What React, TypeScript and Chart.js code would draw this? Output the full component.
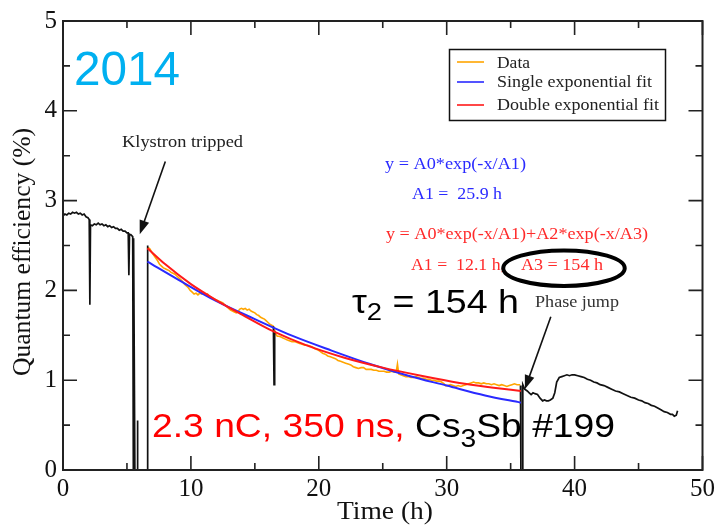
import React, { useEffect, useRef } from "react";
import { Chart, registerables } from "chart.js";
Chart.register(...registerables);

const SERIF = "'Liberation Serif', 'Times New Roman', serif";
const SANS = "'Liberation Sans', Arial, sans-serif";

// Black raw data before the trip (x in h, y in %)
const blackPre: [number, number][] = [
  [0, 2.83], [0.15, 2.85], [0.3, 2.84], [0.45, 2.86], [0.6, 2.85], [0.75, 2.87], [0.9, 2.86], [1.05, 2.87],
  [1.2, 2.85], [1.35, 2.86], [1.5, 2.84], [1.65, 2.85], [1.8, 2.82], [1.95, 2.81], [2.05, 2.79],
  [2.1, 1.84], [2.15, 2.73], [2.3, 2.72], [2.45, 2.74], [2.6, 2.73], [2.75, 2.75], [2.9, 2.73], [3.05, 2.74],
  [3.2, 2.72], [3.35, 2.73], [3.5, 2.71], [3.65, 2.72], [3.8, 2.7], [3.95, 2.71], [4.1, 2.69], [4.25, 2.69],
  [4.4, 2.67], [4.55, 2.68], [4.7, 2.66], [4.85, 2.66], [5.0, 2.64], [5.1, 2.64], [5.15, 2.17], [5.2, 2.62],
  [5.3, 2.62], [5.45, 2.6], [5.5, 0], [5.52, 2.58], [5.62, 0],
  [5.8, 0], [5.82, 0.55], [5.85, 0], [6.6, 0], [6.62, 2.5],
];
// Black spike inside the fitted range
const blackSpike: [number, number][] = [[16.45, 1.6], [16.5, 0.95], [16.55, 1.55]];
// Black raw data after the phase jump
const blackPost: [number, number][] = [
  [35.77, 0.94], [35.8, 0], [35.93, 0], [35.95, 0.95], [36.1, 0.9], [36.3, 0.88], [36.45, 0.86], [36.6, 0.84],
  [36.75, 0.86], [36.9, 0.85], [37.1, 0.84], [37.3, 0.8], [37.5, 0.77], [37.65, 0.78], [37.8, 0.77], [37.95, 0.77],
  [38.1, 0.78], [38.3, 0.8], [38.45, 0.86], [38.6, 0.98], [38.8, 1.03], [39.0, 1.04], [39.2, 1.05], [39.4, 1.06],
  [39.6, 1.05], [39.8, 1.06], [40.0, 1.06], [40.25, 1.05], [40.5, 1.04], [40.75, 1.03], [41.0, 1.01], [41.25, 1.0],
  [41.5, 0.98], [41.75, 0.97], [42.0, 0.95], [42.3, 0.94], [42.6, 0.92], [42.9, 0.9], [43.2, 0.88], [43.5, 0.87],
  [43.8, 0.85], [44.1, 0.83], [44.4, 0.81], [44.7, 0.8], [45.0, 0.78], [45.25, 0.77], [45.5, 0.75], [45.75, 0.74],
  [46.0, 0.72], [46.25, 0.71], [46.5, 0.69], [46.75, 0.67], [47.0, 0.65], [47.25, 0.64], [47.5, 0.62], [47.65, 0.62],
  [47.8, 0.6], [47.95, 0.61], [48.05, 0.66],
];
// Orange: data used in the fit
const fitData: [number, number][] = [
  [6.65, 2.48], [6.8, 2.46], [6.95, 2.42], [7.1, 2.39], [7.25, 2.36], [7.4, 2.33], [7.55, 2.29], [7.7, 2.27],
  [7.85, 2.25], [8.0, 2.24], [8.15, 2.23], [8.3, 2.22], [8.45, 2.2], [8.6, 2.19], [8.75, 2.18], [8.9, 2.16],
  [9.05, 2.14], [9.2, 2.12], [9.35, 2.1], [9.5, 2.07], [9.65, 2.05], [9.8, 2.03], [9.95, 2.0], [10.1, 1.98],
  [10.25, 1.96], [10.4, 1.97], [10.55, 1.95], [10.7, 1.97], [10.85, 1.96], [11.0, 1.97], [11.15, 1.95], [11.3, 1.96],
  [11.45, 1.93], [11.6, 1.92], [11.75, 1.91], [11.9, 1.9], [12.05, 1.89], [12.2, 1.88], [12.35, 1.87], [12.5, 1.86],
  [12.65, 1.84], [12.8, 1.82], [12.95, 1.8], [13.1, 1.78], [13.25, 1.77], [13.4, 1.76], [13.55, 1.75], [13.7, 1.76],
  [13.8, 1.79], [13.95, 1.8], [14.1, 1.79], [14.25, 1.8], [14.4, 1.78], [14.55, 1.79], [14.7, 1.77], [14.85, 1.76],
  [15.0, 1.75], [15.15, 1.73], [15.3, 1.72], [15.45, 1.7], [15.6, 1.69], [15.75, 1.68], [15.9, 1.66], [16.05, 1.64],
  [16.2, 1.62], [16.35, 1.61], [16.45, 1.6], [16.6, 1.52], [16.75, 1.49], [16.9, 1.49], [17.05, 1.48], [17.2, 1.47],
  [17.35, 1.46], [17.5, 1.45], [17.7, 1.44], [17.9, 1.43], [18.1, 1.43], [18.3, 1.42], [18.5, 1.41], [18.7, 1.4],
  [18.9, 1.39], [19.1, 1.39], [19.3, 1.38], [19.5, 1.37], [19.7, 1.35], [19.9, 1.34], [20.1, 1.32], [20.3, 1.3],
  [20.5, 1.29], [20.7, 1.27], [20.9, 1.26], [21.1, 1.25], [21.3, 1.24], [21.5, 1.22], [21.7, 1.21], [21.9, 1.2],
  [22.1, 1.19], [22.3, 1.18], [22.5, 1.17], [22.7, 1.15], [22.9, 1.14], [23.1, 1.13], [23.3, 1.14], [23.5, 1.14],
  [23.7, 1.12], [23.9, 1.12], [24.1, 1.12], [24.3, 1.11], [24.5, 1.11], [24.7, 1.1], [24.9, 1.1], [25.1, 1.1],
  [25.3, 1.09], [25.5, 1.09], [25.7, 1.1], [25.9, 1.09], [26.05, 1.09], [26.15, 1.18], [26.25, 1.07], [26.4, 1.06],
  [26.6, 1.05], [26.8, 1.04], [27.0, 1.04], [27.2, 1.03], [27.4, 1.03], [27.6, 1.04], [27.8, 1.03], [28.0, 1.02],
  [28.2, 1.02], [28.4, 1.01], [28.6, 1.01], [28.8, 1.0], [29.0, 1.0], [29.2, 0.99], [29.4, 0.99], [29.6, 0.98],
  [29.8, 0.96], [29.9, 0.94], [30.1, 0.94], [30.3, 0.95], [30.5, 0.94], [30.7, 0.93], [30.9, 0.94], [31.1, 0.93],
  [31.3, 0.94], [31.5, 0.95], [31.7, 0.96], [31.9, 0.97], [32.1, 0.98], [32.3, 0.97], [32.5, 0.97], [32.7, 0.96],
  [32.9, 0.97], [33.1, 0.96], [33.3, 0.96], [33.5, 0.95], [33.7, 0.96], [33.9, 0.95], [34.1, 0.94], [34.3, 0.95],
  [34.5, 0.94], [34.7, 0.93], [34.9, 0.94], [35.1, 0.95], [35.3, 0.96], [35.5, 0.95], [35.75, 0.95],
];
// Single exponential fit (blue)
const singleFit: [number, number][] = [
  [6.6, 2.32], [9, 2.12], [12, 1.88], [15, 1.68], [18, 1.49], [21, 1.33], [24, 1.18], [27, 1.05], [30, 0.94],
  [33, 0.83], [35.8, 0.75],
];
// Double exponential fit (red)
const doubleFit: [number, number][] = [
  [6.6, 2.47], [8, 2.29], [10, 2.07], [12, 1.89], [14, 1.73], [16.5, 1.54], [19, 1.39], [22, 1.25], [25, 1.14],
  [28, 1.05], [31, 0.97], [33.5, 0.92], [35.8, 0.88],
];

const xTickValues = [0, 5, 10, 15, 20, 25, 30, 35, 40, 45, 50];
const yTickValues = [0, 0.5, 1, 1.5, 2, 2.5, 3, 3.5, 4, 4.5, 5];
const legendLabels = ["Data", "Single exponential fit", "Double exponential fit"];
const legendColors = ["#ffa500", "#2a2aff", "#ff1a1a"];

const toXY = (a: [number, number][]) => a.map(([x, y]) => ({ x, y }));
const gap = (x: number) => ({ x, y: null as any });

type Piece = { t: string; font: string; color: string; dy?: number };
function fitText(ctx: CanvasRenderingContext2D, pieces: Piece[], x0: number, x1: number, base: number) {
  let total = 0;
  const ws: number[] = [];
  for (const p of pieces) {
    ctx.font = p.font;
    const w = ctx.measureText(p.t).width;
    ws.push(w);
    total += w;
  }
  const sx = (x1 - x0) / total;
  ctx.save();
  ctx.translate(x0, base);
  ctx.scale(sx, 1);
  ctx.textBaseline = "alphabetic";
  ctx.textAlign = "left";
  let cx = 0;
  pieces.forEach((p, i) => {
    ctx.font = p.font;
    ctx.fillStyle = p.color;
    ctx.fillText(p.t, cx, p.dy || 0);
    cx += ws[i];
  });
  ctx.restore();
}

function arrow(ctx: CanvasRenderingContext2D, x0: number, y0: number, x1: number, y1: number) {
  const ang = Math.atan2(y1 - y0, x1 - x0);
  const L = 14, W = 5;
  ctx.save();
  ctx.strokeStyle = "#111";
  ctx.fillStyle = "#111";
  ctx.lineWidth = 1.6;
  ctx.beginPath();
  ctx.moveTo(x0, y0);
  ctx.lineTo(x1 - Math.cos(ang) * L * 0.8, y1 - Math.sin(ang) * L * 0.8);
  ctx.stroke();
  ctx.beginPath();
  ctx.moveTo(x1, y1);
  ctx.lineTo(x1 - Math.cos(ang) * L - Math.sin(ang) * W, y1 - Math.sin(ang) * L + Math.cos(ang) * W);
  ctx.lineTo(x1 - Math.cos(ang) * L + Math.sin(ang) * W, y1 - Math.sin(ang) * L - Math.cos(ang) * W);
  ctx.closePath();
  ctx.fill();
  ctx.restore();
}

const overlay = {
  id: "overlay",
  afterDatasetsDraw(chart: any) {
    const ctx: CanvasRenderingContext2D = chart.ctx;
    const xs = chart.scales.x, ys = chart.scales.y;
    const X = (v: number) => xs.getPixelForValue(v);
    const Y = (v: number) => ys.getPixelForValue(v);
    const { left, right, top, bottom } = chart.chartArea;
    ctx.save();
    // frame
    ctx.strokeStyle = "#222";
    ctx.lineWidth = 2;
    ctx.strokeRect(left, top, right - left, bottom - top);
    // ticks (inward, all four sides)
    ctx.lineWidth = 1.6;
    ctx.beginPath();
    xTickValues.forEach((v) => {
      const len = v % 10 === 0 ? 14 : 7;
      const px = X(v);
      ctx.moveTo(px, bottom); ctx.lineTo(px, bottom - len);
      ctx.moveTo(px, top); ctx.lineTo(px, top + len);
    });
    yTickValues.forEach((v) => {
      const len = Number.isInteger(v) ? 14 : 7;
      const py = Y(v);
      ctx.moveTo(left, py); ctx.lineTo(left + len, py);
      ctx.moveTo(right, py); ctx.lineTo(right - len, py);
    });
    ctx.stroke();

    // legend box
    ctx.lineWidth = 1.5;
    ctx.strokeStyle = "#111";
    ctx.strokeRect(449.5, 49.5, 216, 71);
    const rows = [62, 82, 105];
    const bases = [68, 87, 110];
    const ends = [530, 652, 659];
    legendLabels.forEach((lab, i) => {
      ctx.strokeStyle = legendColors[i];
      ctx.lineWidth = 1.6;
      ctx.beginPath();
      ctx.moveTo(457, rows[i]); ctx.lineTo(484, rows[i]);
      ctx.stroke();
      fitText(ctx, [{ t: lab, font: `17px ${SERIF}`, color: "#222" }], 497, ends[i], bases[i]);
    });

    // annotations
    fitText(ctx, [{ t: "2014", font: `48px ${SANS}`, color: "#00b0f0" }], 74, 180, 85);
    fitText(ctx, [{ t: "Klystron tripped", font: `17px ${SERIF}`, color: "#222" }], 122, 243, 147);
    fitText(ctx, [{ t: "y = A0*exp(-x/A1)", font: `17px ${SERIF}`, color: "#2a2aff" }], 385, 526, 169);
    fitText(ctx, [{ t: "A1 =  25.9 h", font: `17px ${SERIF}`, color: "#2a2aff" }], 412, 502, 199);
    fitText(ctx, [{ t: "y = A0*exp(-x/A1)+A2*exp(-x/A3)", font: `17px ${SERIF}`, color: "#ff2a2a" }], 386, 648, 239);
    fitText(ctx, [{ t: "A1 =  12.1 h,", font: `17px ${SERIF}`, color: "#ff2a2a" }], 411, 505, 270);
    fitText(ctx, [{ t: "A3 = 154 h", font: `17px ${SERIF}`, color: "#ff2a2a" }], 521, 603, 270);
    fitText(ctx, [{ t: "Phase jump", font: `16px ${SERIF}`, color: "#333" }], 535, 619, 307);
    fitText(ctx, [
      { t: "τ", font: `33px ${SANS}`, color: "#000" },
      { t: "2", font: `24px ${SANS}`, color: "#000", dy: 7 },
      { t: " = 154 h", font: `33px ${SANS}`, color: "#000" },
    ], 352, 519, 313);
    fitText(ctx, [
      { t: "2.3 nC, 350 ns, ", font: `33px ${SANS}`, color: "#ff0000" },
      { t: "Cs", font: `33px ${SANS}`, color: "#000" },
      { t: "3", font: `25px ${SANS}`, color: "#000", dy: 10 },
      { t: "Sb #199", font: `33px ${SANS}`, color: "#000" },
    ], 152, 615, 437);

    // axis titles
    fitText(ctx, [{ t: "Time (h)", font: `25px ${SERIF}`, color: "#111" }], 337, 433, 519);
    ctx.save();
    ctx.translate(30, 376);
    ctx.rotate(-Math.PI / 2);
    fitText(ctx, [{ t: "Quantum efficiency (%)", font: `25px ${SERIF}`, color: "#111" }], 0, 248, 0);
    ctx.restore();

    // arrows
    arrow(ctx, X(8.0), Y(3.436), X(6.0), Y(2.624));
    arrow(ctx, X(38.14), Y(1.707), X(36.11), Y(0.9));

    // ellipse around A3
    const cx = X(39.17), cy = Y(2.247);
    const rx = X(39.17 + 4.75) - cx, ry = cy - Y(2.247 + 0.198);
    ctx.strokeStyle = "#000";
    ctx.lineWidth = 4;
    ctx.beginPath();
    ctx.ellipse(cx, cy, rx, ry, 0, 0, Math.PI * 2);
    ctx.stroke();
    ctx.restore();
  },
};

export default function App() {
  const ref = useRef<HTMLCanvasElement | null>(null);
  useEffect(() => {
    if (!ref.current) return;
    const black = [
      ...toXY(blackPre), gap(6.63),
      ...toXY(blackSpike), gap(16.6),
      ...toXY(blackPost),
    ];
    const chart = new Chart(ref.current, {
      type: "line",
      data: {
        datasets: [
          { label: legendLabels[2], data: toXY(doubleFit), borderColor: legendColors[2], borderWidth: 2, cubicInterpolationMode: "monotone" },
          { label: legendLabels[1], data: toXY(singleFit), borderColor: legendColors[1], borderWidth: 2, cubicInterpolationMode: "monotone" },
          { label: "raw", data: black, borderColor: "#111", borderWidth: 1.7, spanGaps: false },
          { label: legendLabels[0], data: toXY(fitData), borderColor: legendColors[0], borderWidth: 1.6 },
        ] as any,
      },
      options: {
        animation: false,
        responsive: false,
        maintainAspectRatio: false,
        parsing: false as any,
        layout: { padding: { left: 0, top: 16, right: 14, bottom: 0 } },
        elements: { point: { radius: 0 }, line: { tension: 0 } },
        plugins: { legend: { display: false }, tooltip: { enabled: false } },
        scales: {
          x: {
            type: "linear", min: 0, max: 50,
            grid: { display: false, drawTicks: false },
            border: { display: false },
            ticks: { stepSize: 10, padding: 4, color: "#111", font: { family: SERIF, size: 25 } },
            afterFit: (s: any) => { s.height = 56; },
          },
          y: {
            type: "linear", min: 0, max: 5,
            grid: { display: false, drawTicks: false },
            border: { display: false },
            ticks: { stepSize: 1, padding: 6, color: "#111", font: { family: SERIF, size: 25 } },
            afterFit: (s: any) => { s.width = 63; },
          },
        },
      } as any,
      plugins: [overlay],
    });
    return () => chart.destroy();
  }, []);
  return (
    <div style={{ position: "absolute", left: 0, top: 0, width: 719, height: 526, background: "#fff" }}>
      <canvas ref={ref} width={719} height={526} style={{ display: "block" }} />
    </div>
  );
}
